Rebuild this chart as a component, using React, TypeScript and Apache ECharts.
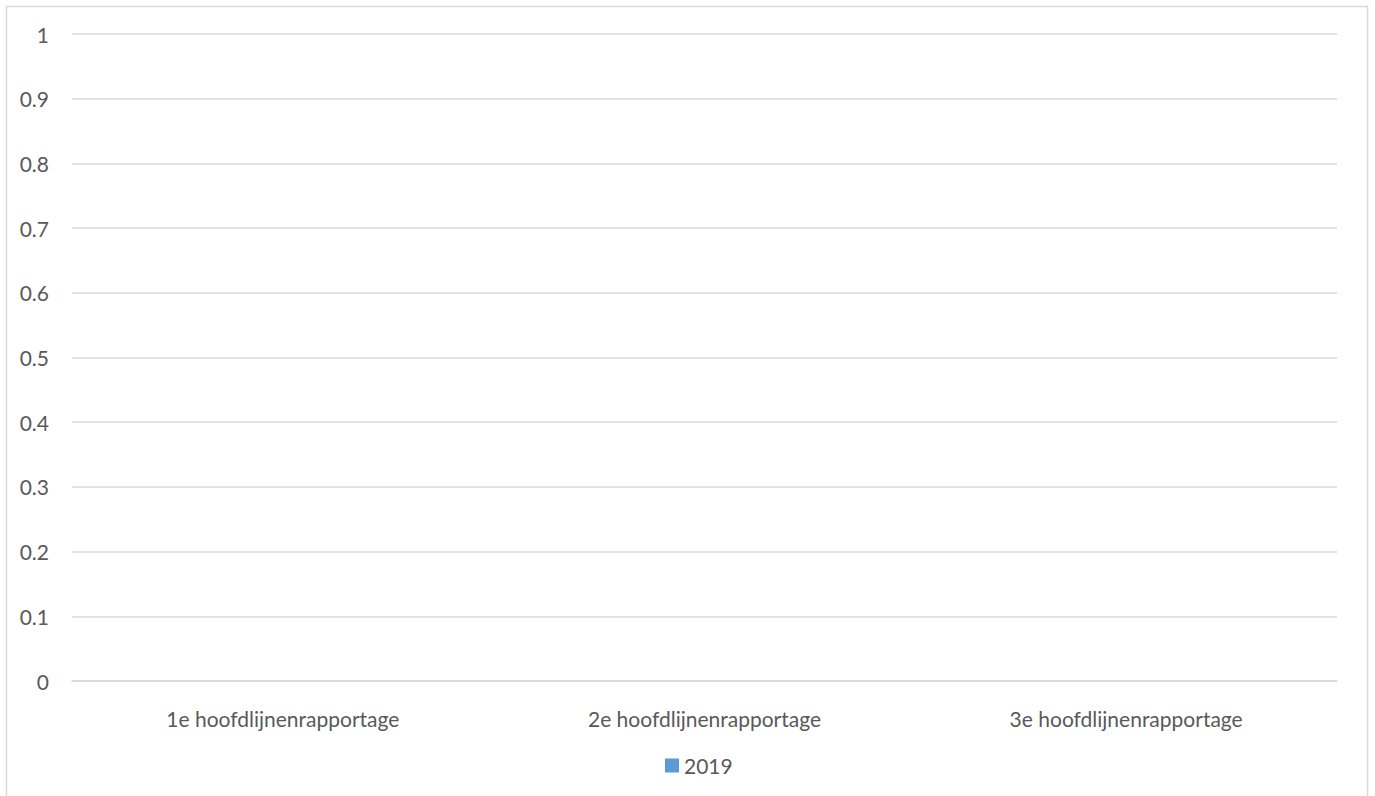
import React, { useEffect, useRef } from "react";
import * as echarts from "echarts";

const categories = ["1e hoofdlijnenrapportage", "2e hoofdlijnenrapportage", "3e hoofdlijnenrapportage"];
const seriesName = "2019";
const values2019: (number | null)[] = [null, null, null];

export default function App() {
  const ref = useRef<HTMLDivElement>(null);
  useEffect(() => {
    if (!ref.current) return;
    const chart = echarts.init(ref.current, undefined, { renderer: "svg" });
    const font = "Lato";
    chart.setOption({
      animation: false,
      backgroundColor: "#ffffff",
      textStyle: { fontFamily: font },
      graphic: [
        {
          type: "rect",
          shape: { x: 6.5, y: 6.5, width: 1361, height: 800 },
          style: { fill: "none", stroke: "#d9d9d9", lineWidth: 1.5 },
          silent: true,
        },
      ],
      grid: { left: 72, right: 38, top: 34, bottom: 115, containLabel: false },
      legend: {
        bottom: 15,
        left: 660,
        icon: "rect",
        itemWidth: 14,
        itemHeight: 14,
        itemGap: 7,
        textStyle: { color: "#595959", fontSize: 21, fontFamily: font },
        data: [seriesName],
      },
      xAxis: {
        type: "category",
        data: categories,
        axisLine: { show: true, lineStyle: { color: "#d9d9d9", width: 1.5 } },
        axisTick: { show: false },
        axisLabel: { color: "#595959", fontSize: 21, margin: 27, fontFamily: font },
      },
      yAxis: {
        type: "value",
        min: 0,
        max: 1,
        interval: 0.1,
        axisLine: { show: false },
        axisTick: { show: false },
        axisLabel: { color: "#595959", fontSize: 21, margin: 23, fontFamily: font },
        splitLine: { show: true, lineStyle: { color: "#d9d9d9", width: 1.5 } },
      },
      series: [
        {
          name: seriesName,
          type: "bar",
          data: values2019,
          itemStyle: { color: "#5b9bd5" },
        },
      ],
    });
    return () => chart.dispose();
  }, []);
  return (
    <div style={{ position: "fixed", left: 0, top: 0, width: 1375, height: 796, background: "#fff" }}>
      <div ref={ref} style={{ width: 1375, height: 796 }} />
    </div>
  );
}
